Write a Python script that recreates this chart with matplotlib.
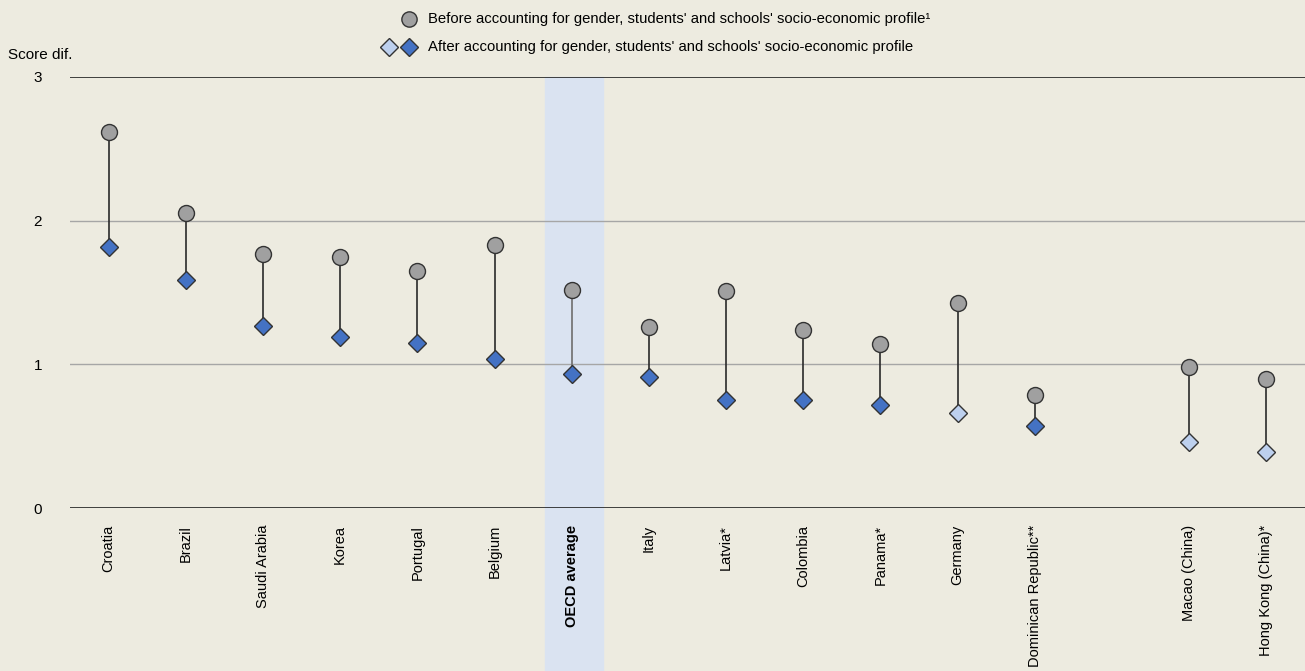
import matplotlib
matplotlib.use("Agg")
import matplotlib.pyplot as plt
from matplotlib.lines import Line2D
import numpy as np

countries = ["Croatia", "Brazil", "Saudi Arabia", "Korea", "Portugal", "Belgium",
             "OECD average", "Italy", "Latvia*", "Colombia", "Panama*", "Germany",
             "Dominican Republic**", "Macao (China)", "Hong Kong (China)*"]
positions = [0, 1, 2, 3, 4, 5, 6, 7, 8, 9, 10, 11, 12, 14, 15]
before = [2.62, 2.05, 1.77, 1.75, 1.65, 1.83, 1.52, 1.26, 1.51, 1.24, 1.14, 1.43, 0.79, 0.98, 0.90]
after = [1.82, 1.59, 1.27, 1.19, 1.15, 1.04, 0.93, 0.91, 0.75, 0.75, 0.72, 0.66, 0.57, 0.46, 0.39]
after_significant = [True, True, True, True, True, True, True, True, True, True, True, False, True, False, False]
bold_labels = ["OECD average"]

BG = "#EDEBE0"
GREY = "#A0A0A0"
DARK = "#4472C4"
LIGHT = "#BDD0EE"
FONT = ["Liberation Sans", "DejaVu Sans"]
plt.rcParams['font.family'] = FONT

fig = plt.figure(figsize=(13.05, 6.71), dpi=100, facecolor=BG)
ax = fig.add_axes([70/1305, 163/671, 1 - 70/1305, (508-77)/671])
ax.set_facecolor(BG)

ax.set_xlim(-0.5, 15.5)
ax.set_ylim(0, 3)

# OECD band
oecd_pos = positions[countries.index("OECD average")]
ax.axvspan(oecd_pos - 0.35, oecd_pos + 0.41, ymin=-0.5, ymax=1, color="#DAE3F1", zorder=0, clip_on=False)

for yv in [1, 2]:
    ax.axhline(yv, color="#A6A6A6", lw=1, zorder=1)
ax.axhline(3, color="#222222", lw=1.2, zorder=1)
ax.axhline(0, color="#222222", lw=1.2, zorder=1)

for s in ax.spines.values():
    s.set_visible(False)

for p, b, a in zip(positions, before, after):
    c = "#6E6E6E" if p == oecd_pos else "#2A2A2A"
    ax.plot([p, p], [a, b], color=c, lw=1.2, zorder=2)

ax.plot(positions, before, linestyle="none", marker="o", ms=11.5, mfc=GREY, mec="#333333", mew=1, zorder=3)
for p, a, sig in zip(positions, after, after_significant):
    ax.plot([p], [a], linestyle="none", marker="D", ms=9.5, mfc=DARK if sig else LIGHT, mec="#333333", mew=1, zorder=3)

ax.set_yticks([0, 1, 2, 3])
ax.set_yticklabels(["0", "1", "2", "3"], fontsize=11)
ax.tick_params(axis="y", length=0, pad=20)
ax.set_xticks(positions)
ax.set_xticklabels(countries, rotation=90, fontsize=10.5, va="top", ha="center")
ax.tick_params(axis="x", length=0, pad=12)
for lbl in ax.get_xticklabels():
    if lbl.get_text() in bold_labels:
        lbl.set_fontweight("bold")

fig.text(8/1305, 1 - 55/671, "Score dif.", fontsize=11, va="center", ha="left")

# legend
fig.add_artist(Line2D([409/1305], [1 - 19/671], marker="o", ms=11, mfc=GREY, mec="#333333", mew=1, linestyle="none"))
fig.add_artist(Line2D([389/1305], [1 - 47/671], marker="D", ms=9.5, mfc=LIGHT, mec="#333333", mew=1, linestyle="none"))
fig.add_artist(Line2D([409/1305], [1 - 47/671], marker="D", ms=9.5, mfc=DARK, mec="#333333", mew=1, linestyle="none"))
fig.text(428/1305, 1 - 19/671, "Before accounting for gender, students' and schools' socio-economic profile\u00b9",
         fontsize=10.7, va="center", ha="left")
fig.text(428/1305, 1 - 47/671, "After accounting for gender, students' and schools' socio-economic profile",
         fontsize=10.7, va="center", ha="left")

fig.savefig("out.png", dpi=100, facecolor=BG)
